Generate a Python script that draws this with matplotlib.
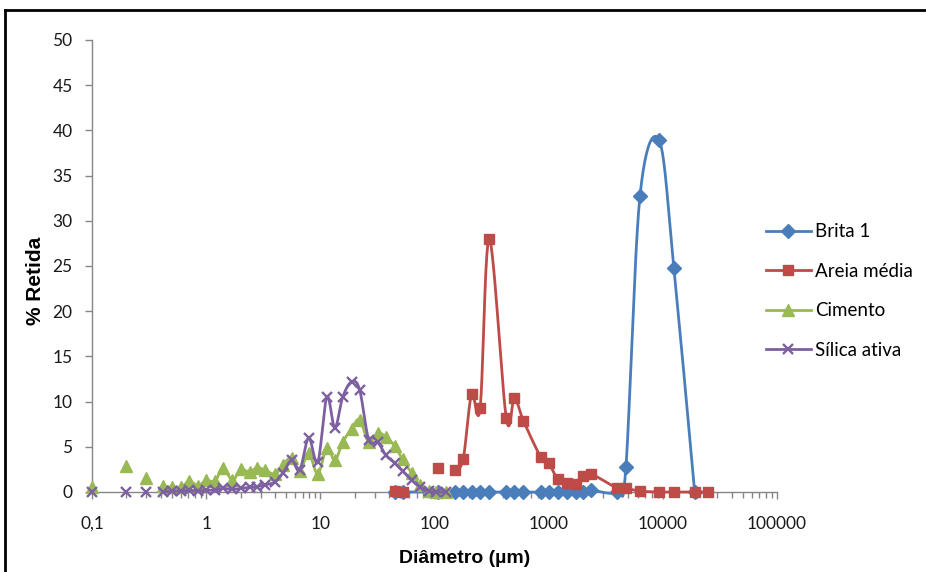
import numpy as np
import matplotlib
matplotlib.use("Agg")
import matplotlib.pyplot as plt
from matplotlib.lines import Line2D
from matplotlib.ticker import FixedLocator, LogLocator, NullFormatter

nan = np.nan

# ---------------- data ----------------
brita_x = [45, 53, 107, 150, 178, 211, 251, 302, 425, 501, 600, 850, 1000, 1200,
           1440, 1730, 2000, 2360, 4000, 4750, 6300, 9300, 12500, 19000]
brita_y = [0, 0, 0, 0, 0, 0, 0, 0, 0, 0, 0, 0, 0, 0,
           0, 0, 0, 0.2, 0, 2.8, 32.7, 38.9, 24.8, 0]

areia_x = [45, 53, 75, 107, 125, 150, 178, 211, 251, 302, 425, 501, 600, 850, 1000,
           1200, 1440, 1730, 2000, 2360, 4000, 4750, 6300, 9300, 12500, 19000, 25000]
areia_y = [0.1, 0.0, nan, 2.7, nan, 2.4, 3.6, 10.8, 9.3, 28.0, 8.2, 10.4, 7.9, 3.9, 3.2,
           1.4, 1.0, 0.9, 1.8, 2.0, 0.4, 0.4, 0.1, 0.0, 0.0, 0.0, 0.0]

fino_x = [0.1, 0.15, 0.2, 0.25, 0.3, 0.36, 0.42, 0.5, 0.6, 0.71, 0.85, 1.0, 1.2, 1.4,
          1.7, 2.0, 2.4, 2.8, 3.3, 4.0, 4.7, 5.6, 6.6, 7.9, 9.5, 11.4, 13.4, 15.7,
          18.8, 22.1, 26.5, 31.8, 37.3, 44.8, 52.6, 63.1, 74.1, 88.8, 104, 125]
cimento_y = [0.5, nan, 2.9, nan, 1.6, nan, 0.7, 0.5, 0.5, 1.2, 0.7, 1.3, 1.2, 2.7,
             1.3, 2.5, 2.2, 2.7, 2.4, 2.0, 3.0, 3.8, 2.3, 4.3, 2.0, 4.9, 3.5, 5.5,
             7.0, 8.0, 5.5, 6.5, 6.1, 5.1, 3.6, 2.1, 0.8, 0.1, 0.0, 0.0]
silica_y = [0.0, nan, 0.0, nan, 0.0, nan, 0.0, 0.1, 0.1, 0.2, 0.1, 0.2, 0.2, 0.4,
            0.3, 0.4, 0.5, 0.6, 0.8, 1.1, 2.1, 3.5, 2.4, 6.0, 3.3, 10.5, 7.1, 10.5,
            12.2, 11.3, 5.8, 5.5, 4.1, 3.2, 2.3, 1.3, 0.6, 0.1, 0.0, 0.0]

series_names = ["Brita 1", "Areia média", "Cimento", "Sílica ativa"]
series_colors = ["#4A7EBB", "#BE4B48", "#98B954", "#7D60A0"]

x_ticks = [0.1, 1, 10, 100, 1000, 10000, 100000]
x_labels = ["0,1", "1", "10", "100", "1000", "10000", "100000"]
y_ticks = list(range(0, 55, 5))

tick_font = "Lato"
label_font = "Liberation Sans"
legend_font = "Lato"

fig = plt.figure(figsize=(9.26, 5.72), dpi=100)
ax = fig.add_axes([92 / 926, 1 - 492 / 572, (777 - 92) / 926, (492 - 40) / 572])
ax.set_xscale("log")
ax.set_xlim(0.1, 100000)
ax.set_ylim(0, 50)


def smooth(xs, ys, n=24):
    """Catmull-Rom smoothing in display space (like Excel smoothed lines)."""
    xs = np.asarray(xs, float)
    ys = np.asarray(ys, float)
    segs = []
    cur = []
    for xv, yv in zip(xs, ys):
        if np.isnan(yv):
            if cur:
                segs.append(cur)
            cur = []
        else:
            cur.append((xv, yv))
    if cur:
        segs.append(cur)
    out = []
    for s in segs:
        if len(s) < 2:
            continue
        pts = ax.transData.transform(np.array(s))
        P = np.vstack([pts[0], pts, pts[-1]])
        curve = []
        t = np.linspace(0, 1, n)[:, None]
        for i in range(1, len(P) - 2):
            p0, p1, p2, p3 = P[i - 1], P[i], P[i + 1], P[i + 2]
            c = 0.5 * ((2 * p1) + (-p0 + p2) * t + (2 * p0 - 5 * p1 + 4 * p2 - p3) * t ** 2
                       + (-p0 + 3 * p1 - 3 * p2 + p3) * t ** 3)
            curve.append(c)
        curve = np.vstack(curve)
        out.append(ax.transData.inverted().transform(curve))
    return out


markers = [("D", 7.2, 1.0), ("s", 7.2, 1.0), ("^", 8.5, 1.0), ("x", 7.5, 1.7)]
data = [(brita_x, brita_y), (areia_x, areia_y), (fino_x, cimento_y), (fino_x, silica_y)]
handles = []
for (xs, ys), name, col, (mk, ms, mew), z in zip(data, series_names, series_colors, markers, range(4)):
    for seg in smooth(xs, ys):
        ax.plot(seg[:, 0], seg[:, 1], color=col, lw=2.0, zorder=3 + z, clip_on=False,
                solid_capstyle="round")
    ax.plot(xs, ys, linestyle="none", marker=mk, markersize=ms, color=col,
            markerfacecolor=col, markeredgecolor=col, markeredgewidth=mew,
            zorder=3 + z, clip_on=False)
    handles.append(Line2D([], [], color=col, lw=2.0, marker=mk, markersize=ms,
                          markeredgewidth=mew, markerfacecolor=col, markeredgecolor=col))

# axes styling
for side in ["top", "right"]:
    ax.spines[side].set_visible(False)
for side in ["left", "bottom"]:
    ax.spines[side].set_color("#868686")
    ax.spines[side].set_linewidth(1.0)

ax.xaxis.set_major_locator(FixedLocator(x_ticks))
ax.set_xticklabels(x_labels)
ax.xaxis.set_minor_locator(LogLocator(base=10, subs=np.arange(2, 10), numticks=20))
ax.xaxis.set_minor_formatter(NullFormatter())
ax.set_yticks(y_ticks)
ax.set_yticklabels([str(v) for v in y_ticks])
ax.tick_params(axis="both", which="both", direction="out", color="#868686", width=1.0)
ax.tick_params(axis="both", which="major", length=5)
ax.tick_params(axis="x", which="minor", length=4)
ax.tick_params(axis="x", which="major", pad=12)
ax.tick_params(axis="y", which="major", pad=9)
for lab in ax.get_xticklabels() + ax.get_yticklabels():
    lab.set_fontfamily(tick_font)
    lab.set_fontsize(12.5)
    lab.set_color("#1a1a1a")

ax.set_xlabel("Diâmetro (µm)", fontsize=14, fontweight="bold", family=label_font,
              labelpad=10)
ax.xaxis.set_label_coords((465 - 92) / 685, -(550 - 492) / 452)
ax.set_ylabel("% Retida", fontsize=15, fontweight="bold", family=label_font)
ax.yaxis.set_label_coords(-(92 - 45) / 685, (492 - 281) / 452)

leg = fig.legend(handles, series_names, loc="center left",
                 bbox_to_anchor=(758 / 926, 1 - 291 / 572), frameon=False,
                 prop={"family": legend_font, "size": 13.5}, labelspacing=1.2,
                 handlelength=2.4, handletextpad=0.25, borderaxespad=0)

# outer frame (top and left edges visible in the reference)
fig.add_artist(Line2D([5 / 926, 5 / 926], [0, 1 - 10 / 572], color="black", lw=2.0,
                      transform=fig.transFigure))
fig.add_artist(Line2D([5 / 926, 1], [1 - 10 / 572, 1 - 10 / 572], color="black", lw=2.0,
                      transform=fig.transFigure))

fig.savefig("out.png", dpi=100)
